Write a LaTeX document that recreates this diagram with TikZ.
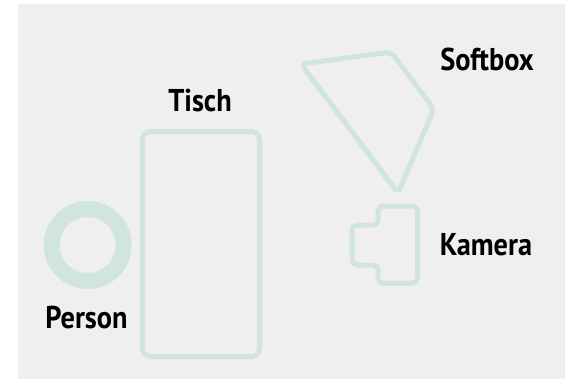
\documentclass[tikz,border=0pt]{standalone}
\usepackage{fontspec}
\setsansfont{PT Sans}
\usetikzlibrary{positioning}
\definecolor{planmint}{HTML}{D1E5DF}
\definecolor{floorgray}{HTML}{EFEFEF}

\begin{document}
\begin{tikzpicture}[x=1pt, y=-1pt,
  outline/.style={draw=planmint, line width=5pt, rounded corners=5pt, line join=round},
  tag/.style={font=\sffamily\bfseries\fontsize{31.5}{31.5}\selectfont, anchor=base,
    inner sep=0pt, xscale=0.9, transform shape}
]
% floor
\fill[white] (0,0) rectangle (565,380);
\fill[floorgray] (18,4) rectangle (565,379);
\useasboundingbox (0,0) rectangle (565,380);

% furniture
\draw[outline, rounded corners=8pt] (142.5,131.5) rectangle (259.5,356.5);
\draw[draw=planmint, line width=16pt] (87.7,245) circle[radius=36];
\draw[outline] (301,64) -- (391,52) -- (434,109) -- (398,193) -- cycle;
\draw[outline] (378,206) -- (417.5,206) -- (417.5,283) -- (378,283) -- (378,265)
  -- (352,265) -- (352,225) -- (378,225) -- cycle;

% labels
\node[tag] (softbox) at (487,70) {Softbox};
\node[tag] (tisch) at (200,111) {Tisch};
\node[tag] (kamera) at (486,255) {Kamera};
\node[tag] (person) at (86.5,328) {Person};
\end{tikzpicture}
\end{document}
